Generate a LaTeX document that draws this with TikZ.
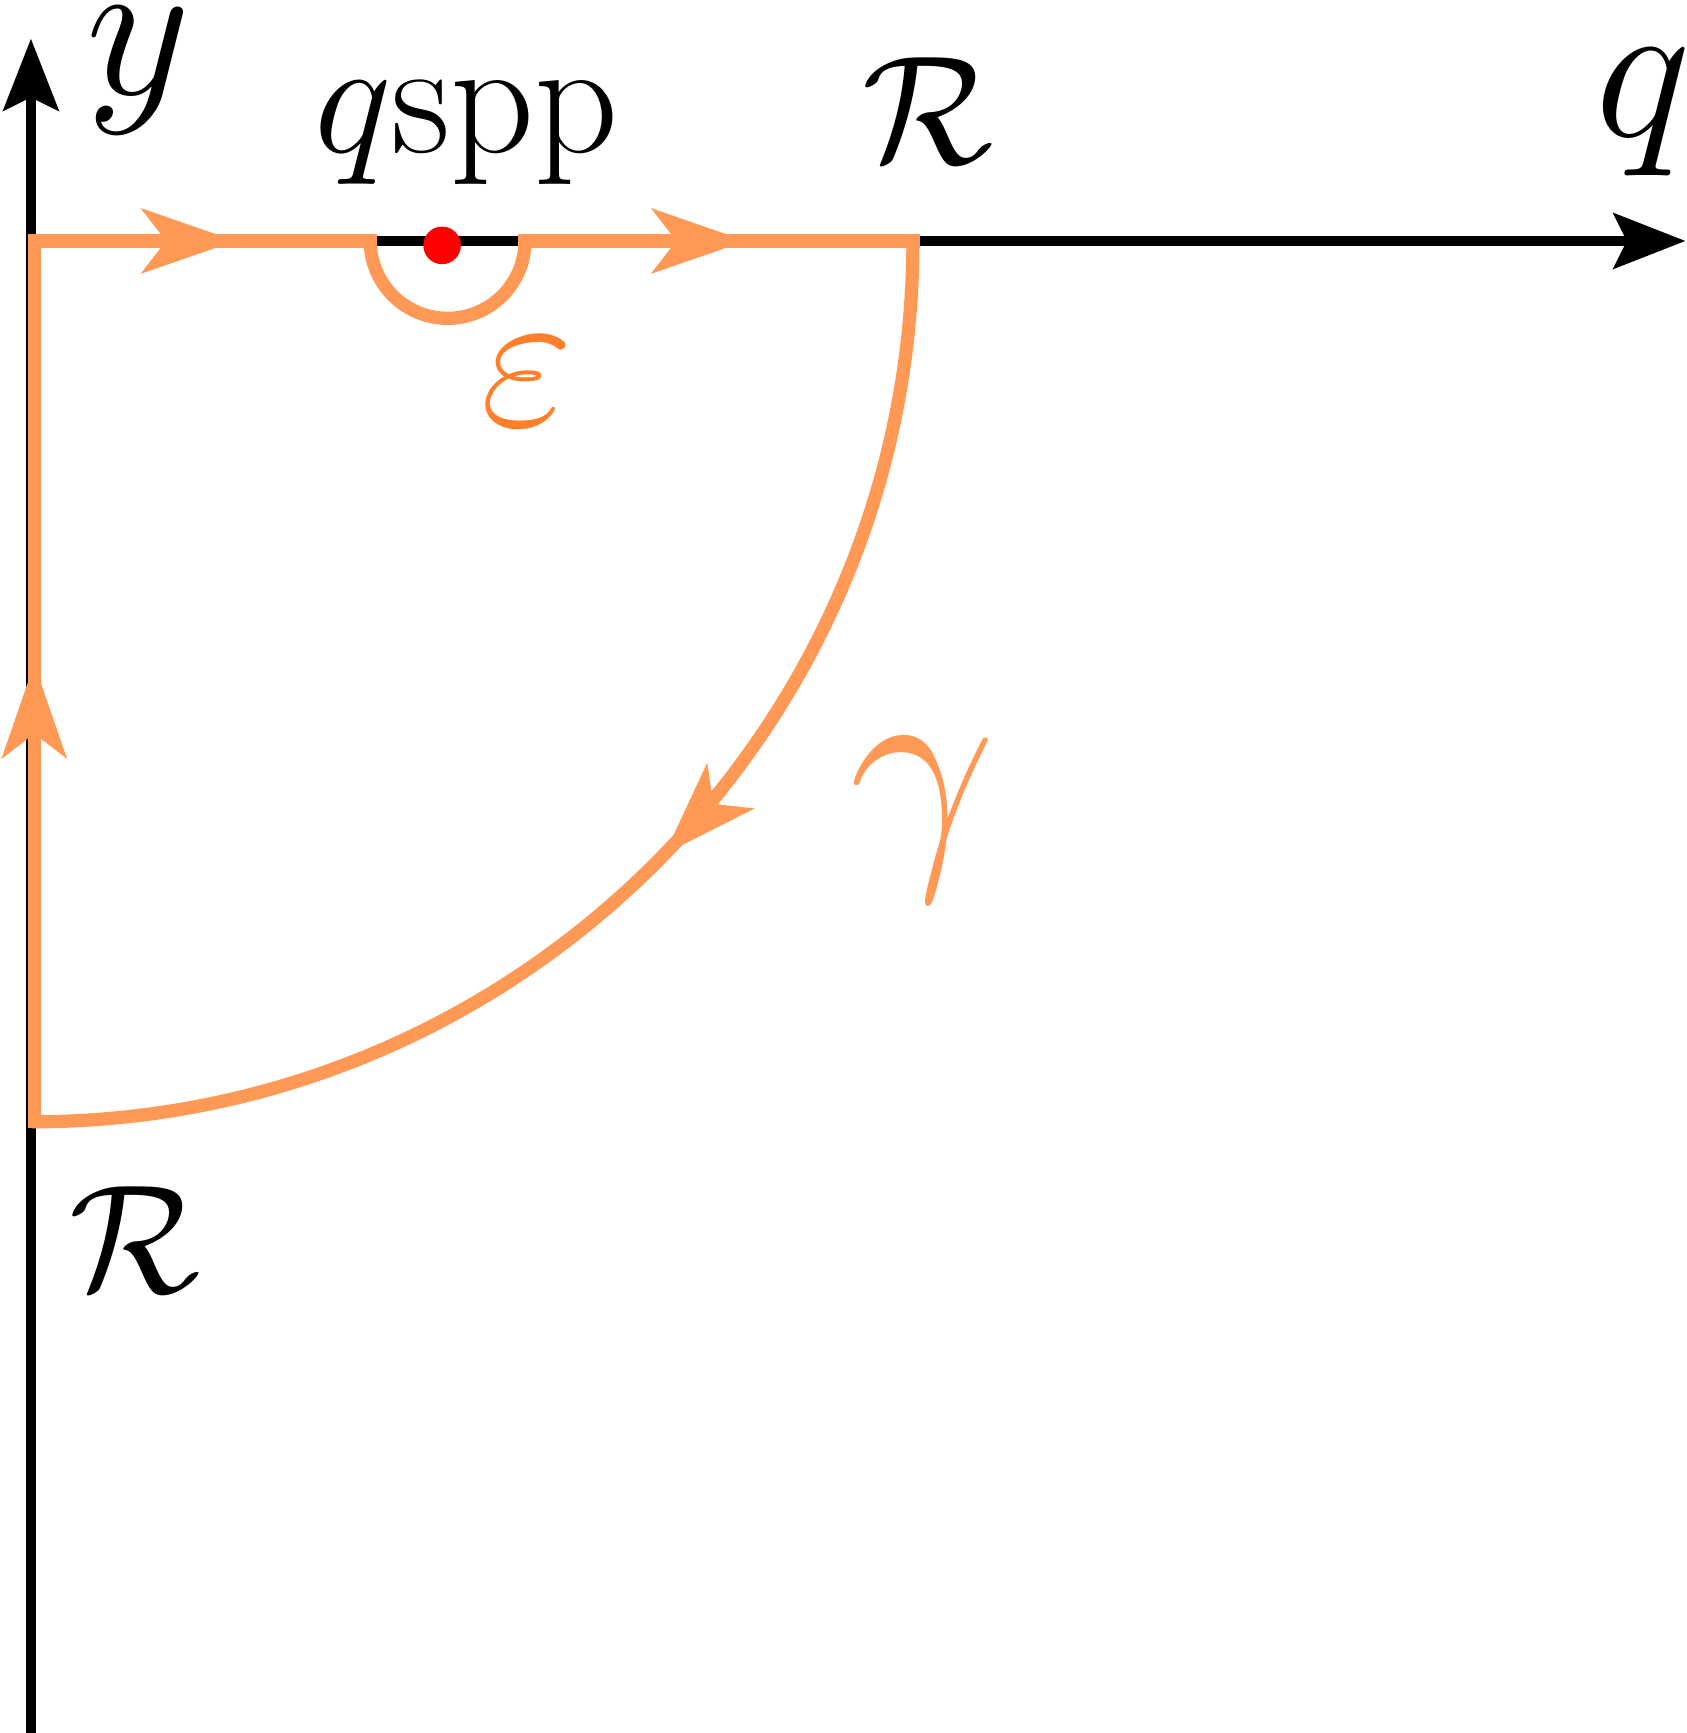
\documentclass[tikz,border=0pt]{standalone}
\usepackage{amsmath}
\usetikzlibrary{arrows.meta,decorations.markings}
\definecolor{contour}{HTML}{FF9955}
\definecolor{contourtext}{HTML}{FF7F2A}

\begin{document}
\begin{tikzpicture}[
  x=0.01cm, y=-0.01cm,
  axis/.style={line width=2.5pt, -{Stealth[length=0.65cm,width=0.5cm,inset=0.12cm]}},
  path/.style={contour, line width=3.4pt, line cap=rect},
  midarrow/.style={postaction={decorate,decoration={markings,
      mark=at position #1 with {\arrow{Stealth[length=0.85cm,width=0.58cm,inset=0.22cm]}}}}},
  lbl/.style={font=\Huge, scale=#1, transform shape},
  lbl/.default=2.1,
  ]
  \useasboundingbox (0,0) rectangle (1526,1568);
  % axes
  \draw[axis] (28,1568) -- (28,35);
  \draw[axis] (28,218) -- (1525,218);
  % contour
  \draw[path, midarrow=0.6] (31,218) -- (335,218);
  \draw[path, line cap=butt] (335,218) arc[start angle=180, end angle=0, radius=70];
  \draw[path, midarrow=0.57] (475,218) -- (826,218);
  \draw[path, line cap=butt, midarrow=0.49] (826,218) arc[start angle=0, end angle=90, radius=797];
  \draw[path, midarrow=0.52] (31,1015) -- (31,218);
  % pole
  \fill[red] (400,222) circle (17);
  % labels
  \node[lbl] (ylab) at (125,64) {$y$};
  \node[lbl] (qlab) at (1487,102) {$q$};
  \node[lbl=1.7] (qspp) at (422,120) {$q\mathrm{spp}$};
  \node[lbl=1.6] (rtop) at (840,100) {$\mathcal{R}$};
  \node[lbl=1.6] (rleft) at (122,1122) {$\mathcal{R}$};
  \node[lbl, contourtext] (eps) at (477,345) {$\varepsilon$};
  \node[lbl=2.7, contour] (gam) at (835,742) {$\gamma$};
\end{tikzpicture}
\end{document}
